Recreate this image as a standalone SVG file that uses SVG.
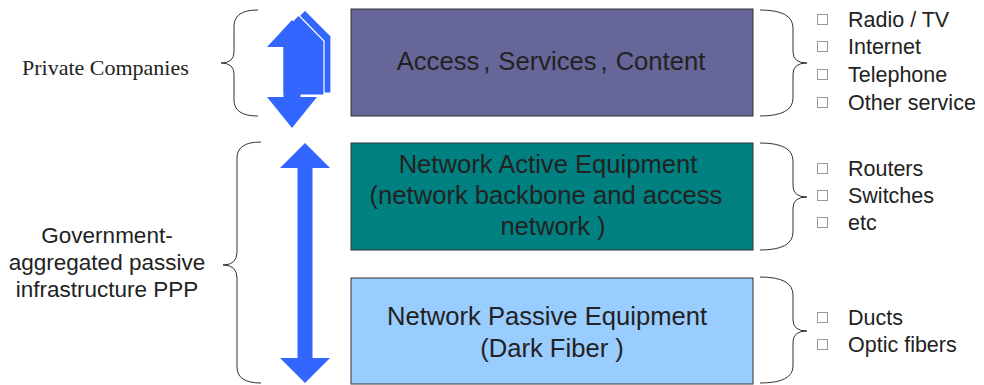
<svg xmlns="http://www.w3.org/2000/svg" width="984" height="385" viewBox="0 0 984 385">
<style>
.box{stroke:#333;stroke-width:1}
.bt{font-family:"Liberation Sans",Arial,sans-serif;font-size:25.6px;fill:#222;text-anchor:middle}
.lt{font-family:"Liberation Sans",Arial,sans-serif;font-size:21.5px;fill:#222}
.gt{font-family:"Liberation Sans",Arial,sans-serif;font-size:22.5px;fill:#222;text-anchor:middle}
.pt{font-family:"Liberation Serif","Times New Roman",serif;font-size:22px;fill:#222}
.brace{fill:none;stroke:#333;stroke-width:1}
.sq{fill:#fff;stroke:#999;stroke-width:1}
.arr{fill:#3366FF}
.arrc{fill:#3366FF;stroke:#fff;stroke-width:1.2}
</style>
<rect width="984" height="385" fill="#fff"/>
<g id="connectors">
  <g id="arrow-top">
    <polygon class="arrc" points="305,10 331,36 331,93 283,93 283,36 279,36"/>
    <polygon class="arrc" points="298.5,15 324,41 324,95 283,95 283,41 273,41"/>
    <polygon class="arr" points="292,20 317,47 300.5,47 300.5,97 317,97 292,128 267,97 283.5,97 283.5,47 267,47"/>
  </g>
  <polygon id="arrow-bottom" class="arr" points="305,143 330,168 312.5,168 312.5,358 330,358 305,383 280,358 297.5,358 297.5,168 280,168"/>
  <path class="brace" d="M258,10 Q234,10 234,26 L234,52 Q234,63 221,63 Q234,63 234,74 L234,100 Q234,116 258,116"/>
  <path class="brace" d="M261,142 Q237,142 237,158 L237,252 Q237,265 223,265 Q237,265 237,278 L237,367 Q237,383 261,383"/>
  <path class="brace" d="M760,10 Q793,10 793,28 L793,52 Q793,63 807,63 Q793,63 793,74 L793,98 Q793,116 760,116"/>
  <path class="brace" d="M760,143 Q793,143 793,161 L793,186 Q793,197 807,197 Q793,197 793,208 L793,232 Q793,250 760,250"/>
  <path class="brace" d="M760,277 Q793,277 793,295 L793,320 Q793,331 807,331 Q793,331 793,342 L793,366 Q793,383 760,383"/>
</g>
<g id="private">
  <text class="pt" x="22" y="75">Private Companies</text>
</g>
<g id="government">
  <text class="gt" x="107" y="243">Government-</text>
  <text class="gt" x="107" y="270">aggregated passive</text>
  <text class="gt" x="107" y="297">infrastructure PPP</text>
</g>
<g id="box-access">
  <rect class="box" x="351" y="9" width="402" height="107" fill="#666699"/>
  <text class="bt" x="551" y="70">Access<tspan dx="4">,</tspan><tspan dx="8">Services</tspan><tspan dx="4">,</tspan><tspan dx="8">Content</tspan></text>
</g>
<g id="box-active">
  <rect class="box" x="351" y="143" width="402" height="107" fill="#008080"/>
  <text class="bt" x="548" y="173">Network Active Equipment</text>
  <text class="bt" x="546" y="204">(network backbone and access</text>
  <text class="bt" x="553" y="235">network )</text>
</g>
<g id="box-passive">
  <rect class="box" x="351" y="278" width="402" height="106" fill="#99CCFF"/>
  <text class="bt" x="547" y="325">Network Passive Equipment</text>
  <text class="bt" x="552" y="357">(Dark Fiber )</text>
</g>
<g id="list-services">
  <rect class="sq" x="817.5" y="14.5" width="10" height="10"/><text class="lt" x="848" y="27">Radio / TV</text>
  <rect class="sq" x="817.5" y="41.5" width="10" height="10"/><text class="lt" x="848" y="54">Internet</text>
  <rect class="sq" x="817.5" y="69.5" width="10" height="10"/><text class="lt" x="848" y="82">Telephone</text>
  <rect class="sq" x="817.5" y="97.5" width="10" height="10"/><text class="lt" x="848" y="110">Other service</text>
</g>
<g id="list-active">
  <rect class="sq" x="817.5" y="163.5" width="10" height="10"/><text class="lt" x="848" y="176">Routers</text>
  <rect class="sq" x="817.5" y="190.5" width="10" height="10"/><text class="lt" x="848" y="203">Switches</text>
  <rect class="sq" x="817.5" y="217.5" width="10" height="10"/><text class="lt" x="848" y="230">etc</text>
</g>
<g id="list-passive">
  <rect class="sq" x="817.5" y="312.5" width="10" height="10"/><text class="lt" x="848" y="325">Ducts</text>
  <rect class="sq" x="817.5" y="339.5" width="10" height="10"/><text class="lt" x="848" y="352">Optic fibers</text>
</g>
</svg>
